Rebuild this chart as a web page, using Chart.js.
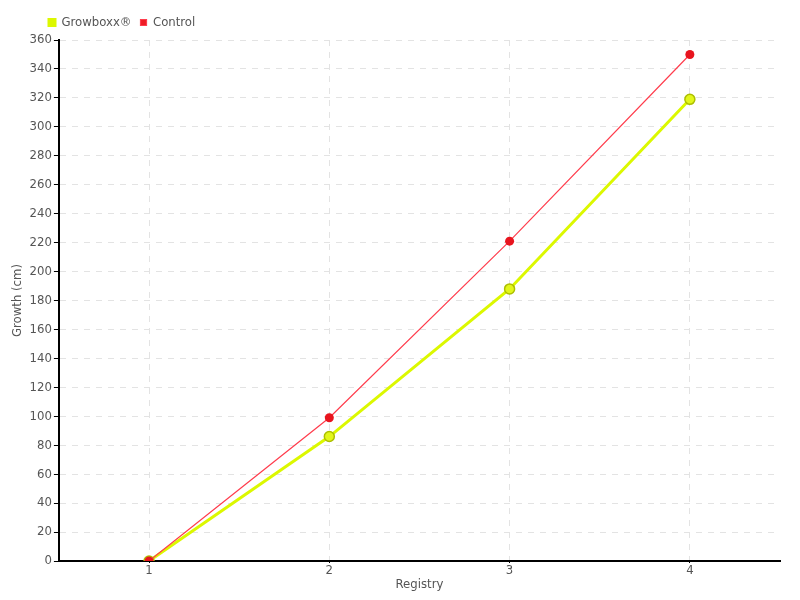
<!DOCTYPE html>
<html>
<head>
<meta charset="utf-8">
<script src="https://cdn.jsdelivr.net/npm/chart.js@4/dist/chart.umd.min.js"></script>
<style>
  html, body { margin: 0; padding: 0; background: #fff; }
  #wrap { width: 800px; height: 600px; }
</style>
</head>
<body>
<div id="wrap"><canvas id="myChart" width="800" height="600"></canvas></div>
<script>
var labels = ["1", "2", "3", "4"];
var growboxx = [0, 86, 188, 319];
var control = [0, 99, 221, 350];

var fontFamily = "'DejaVu Sans Condensed', 'Liberation Sans Narrow', sans-serif";
Chart.defaults.font.family = fontFamily;
Chart.defaults.font.size = 13;
Chart.defaults.color = "#555";

// push the legend a bit to the right, as in the original
var legendShift = {
    id: "legendShift",
    afterLayout: function(chart) {
        if (chart.legend) { chart.legend.left += 30; chart.legend.top -= 1; }
    }
};

var ctx = document.getElementById("myChart").getContext("2d");

var myChart = new Chart(ctx, {
    type: "line",
    plugins: [legendShift],
    data: {
        labels: labels,
        datasets: [{
            label: "Growboxx®",
            data: growboxx,
            order: 1,
            borderColor: "#dcf800",
            backgroundColor: "#dcf800",
            borderWidth: 3,
            pointRadius: 5,
            pointBorderWidth: 1.5,
            pointBackgroundColor: "#e2f71a",
            pointBorderColor: "#adbf00",
            tension: 0
        }, {
            label: "Control",
            data: control,
            order: 0,
            borderColor: "#ff3d4d",
            backgroundColor: "#ee1c25",
            borderWidth: 1.2,
            pointRadius: 4.5,
            pointBorderWidth: 0,
            pointBackgroundColor: "#e8141e",
            tension: 0
        }]
    },
    options: {
        responsive: false,
        animation: false,
        layout: { padding: { left: 10, right: 20, top: 8, bottom: 9 } },
        plugins: {
            legend: {
                position: "top",
                align: "start",
                labels: {
                    boxWidth: 6, boxHeight: 6, padding: 9,
                    sort: function(a, b) { return a.datasetIndex - b.datasetIndex; }
                }
            },
            tooltip: { enabled: false }
        },
        scales: {
            x: {
                offset: true,
                title: { display: true, text: "Registry", padding: { top: 0, bottom: 0 }, font: { lineHeight: 1 } },
                grid: { color: "#e3e3e3", tickColor: "#000", tickLength: 2, tickBorderDash: [] },
                border: { color: "#000", width: 2, dash: [6, 6] },
                ticks: { padding: 1, font: { lineHeight: 1 } }
            },
            y: {
                min: 0,
                max: 360,
                title: { display: true, text: "Growth (cm)", padding: { top: 0, bottom: 2 } },
                grid: { color: "#e3e3e3", tickColor: "#000", tickLength: 5, tickBorderDash: [] },
                border: { color: "#000", width: 2, dash: [6, 6] },
                ticks: { stepSize: 20, padding: 2 }
            }
        }
    }
});
</script>
</body>
</html>
